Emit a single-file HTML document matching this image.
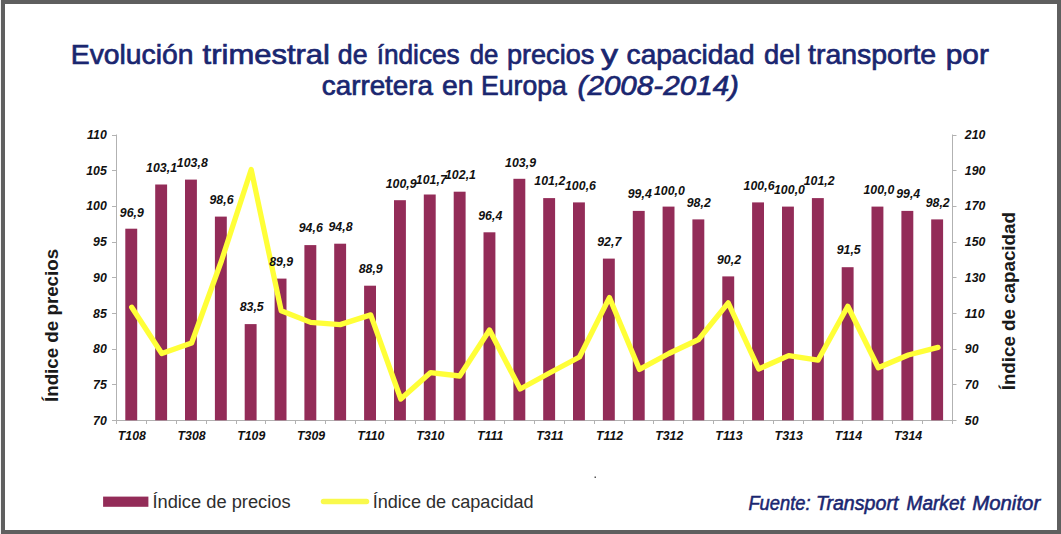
<!DOCTYPE html>
<html><head><meta charset="utf-8"><title>Chart</title>
<style>
html,body{margin:0;padding:0;background:#fff;}
body{width:1061px;height:534px;overflow:hidden;font-family:"Liberation Sans",sans-serif;}
svg{display:block;font-family:"Liberation Sans",sans-serif;}
.t{font-size:28px;fill:#1a2670;stroke:#1a2670;stroke-width:0.7px;}
.n{font-size:12.3px;font-weight:bold;font-style:italic;fill:#111;letter-spacing:0.05px;}
.ax{stroke:#b2b2b2;stroke-width:1;fill:none;}
.b{fill:#932c58;}
</style></head><body>
<svg width="1061" height="534" viewBox="0 0 1061 534">
<rect x="0" y="0" width="1061" height="534" fill="#5f5f5f"/>
<rect x="0" y="0" width="1" height="534" fill="#f0f0f0"/>
<rect x="5" y="4" width="1052" height="526" fill="#ffffff"/>
<text class="t" x="70.78" y="63.6" textLength="122.81" lengthAdjust="spacingAndGlyphs">Evolución</text>
<text class="t" x="202.6" y="63.6" textLength="127.35" lengthAdjust="spacingAndGlyphs">trimestral</text>
<text class="t" x="337.85" y="63.6" textLength="29.7" lengthAdjust="spacingAndGlyphs">de</text>
<text class="t" x="376.66" y="63.6" textLength="82.97" lengthAdjust="spacingAndGlyphs">índices</text>
<text class="t" x="469.68" y="63.6" textLength="28.65" lengthAdjust="spacingAndGlyphs">de</text>
<text class="t" x="507.03" y="63.6" textLength="87.23" lengthAdjust="spacingAndGlyphs">precios</text>
<text class="t" x="601.0" y="63.6" textLength="17.0" lengthAdjust="spacingAndGlyphs">y</text>
<text class="t" x="626.6" y="63.6" textLength="127.98" lengthAdjust="spacingAndGlyphs">capacidad</text>
<text class="t" x="764.12" y="63.6" textLength="36.47" lengthAdjust="spacingAndGlyphs">del</text>
<text class="t" x="808.0" y="63.6" textLength="128.18" lengthAdjust="spacingAndGlyphs">transporte</text>
<text class="t" x="945.73" y="63.6" textLength="43.11" lengthAdjust="spacingAndGlyphs">por</text>
<text class="t" x="321.81" y="95.4" textLength="111.17" lengthAdjust="spacingAndGlyphs">carretera</text>
<text class="t" x="441.99" y="95.4" textLength="31.5" lengthAdjust="spacingAndGlyphs">en</text>
<text class="t" x="481.1" y="95.4" textLength="85.69" lengthAdjust="spacingAndGlyphs">Europa</text>
<text class="t" x="577.54" y="95.4" font-style="italic" textLength="161.46" lengthAdjust="spacingAndGlyphs">(2008-2014)</text>
<g class="ax">
<path d="M116.5 134.5 V424"/>
<path d="M112 420.5 H953"/>
<path d="M952.5 134.5 V421"/>
<path d="M112 135.5 H117 M952 135.5 H956.5"/>
<path d="M112 170.5 H117 M952 170.5 H956.5"/>
<path d="M112 206.5 H117 M952 206.5 H956.5"/>
<path d="M112 242.5 H117 M952 242.5 H956.5"/>
<path d="M112 277.5 H117 M952 277.5 H956.5"/>
<path d="M112 313.5 H117 M952 313.5 H956.5"/>
<path d="M112 349.5 H117 M952 349.5 H956.5"/>
<path d="M112 384.5 H117 M952 384.5 H956.5"/>
<path d="M112 420.5 H117 M952 420.5 H956.5"/>
<path d="M146.5 420 V424"/>
<path d="M176.5 420 V424"/>
<path d="M206.5 420 V424"/>
<path d="M236.5 420 V424"/>
<path d="M265.5 420 V424"/>
<path d="M295.5 420 V424"/>
<path d="M325.5 420 V424"/>
<path d="M355.5 420 V424"/>
<path d="M385.5 420 V424"/>
<path d="M415.5 420 V424"/>
<path d="M444.5 420 V424"/>
<path d="M474.5 420 V424"/>
<path d="M504.5 420 V424"/>
<path d="M534.5 420 V424"/>
<path d="M564.5 420 V424"/>
<path d="M594.5 420 V424"/>
<path d="M624.5 420 V424"/>
<path d="M653.5 420 V424"/>
<path d="M683.5 420 V424"/>
<path d="M713.5 420 V424"/>
<path d="M743.5 420 V424"/>
<path d="M773.5 420 V424"/>
<path d="M803.5 420 V424"/>
<path d="M833.5 420 V424"/>
<path d="M862.5 420 V424"/>
<path d="M892.5 420 V424"/>
<path d="M922.5 420 V424"/>
<path d="M952.5 420 V424"/>
</g>
<g class="b">
<rect x="125.3" y="228.7" width="11.9" height="191.6"/>
<rect x="155.2" y="184.5" width="11.9" height="235.8"/>
<rect x="185.0" y="179.6" width="11.9" height="240.7"/>
<rect x="214.9" y="216.6" width="11.9" height="203.7"/>
<rect x="244.7" y="324.1" width="11.9" height="96.2"/>
<rect x="274.6" y="278.6" width="11.9" height="141.7"/>
<rect x="304.4" y="245.1" width="11.9" height="175.2"/>
<rect x="334.2" y="243.7" width="11.9" height="176.6"/>
<rect x="364.1" y="285.7" width="11.9" height="134.6"/>
<rect x="394.0" y="200.2" width="11.9" height="220.1"/>
<rect x="423.8" y="194.5" width="11.9" height="225.8"/>
<rect x="453.7" y="191.7" width="11.9" height="228.6"/>
<rect x="483.5" y="232.3" width="11.9" height="188.0"/>
<rect x="513.4" y="178.8" width="11.9" height="241.5"/>
<rect x="543.2" y="198.1" width="11.9" height="222.2"/>
<rect x="573.0" y="202.4" width="11.9" height="217.9"/>
<rect x="602.9" y="258.6" width="11.9" height="161.7"/>
<rect x="632.8" y="210.9" width="11.9" height="209.4"/>
<rect x="662.6" y="206.6" width="11.9" height="213.7"/>
<rect x="692.4" y="219.4" width="11.9" height="200.9"/>
<rect x="722.3" y="276.4" width="11.9" height="143.9"/>
<rect x="752.1" y="202.4" width="11.9" height="217.9"/>
<rect x="782.0" y="206.6" width="11.9" height="213.7"/>
<rect x="811.9" y="198.1" width="11.9" height="222.2"/>
<rect x="841.7" y="267.2" width="11.9" height="153.1"/>
<rect x="871.5" y="206.6" width="11.9" height="213.7"/>
<rect x="901.4" y="210.9" width="11.9" height="209.4"/>
<rect x="931.2" y="219.4" width="11.9" height="200.9"/>
</g>
<polyline points="131.7,307.3 161.8,353.5 191.6,343 221.4,261 251.2,169.5 281.2,310.8 310.7,322.4 340.2,324.6 370.7,314.9 400.8,399 430.6,372.6 459.7,376 489.5,330 520.2,389 549.5,373 579.5,357 609.4,297.6 639.5,369.4 668.9,353.5 698.6,339.5 728.2,302.9 758.7,369 788.7,355.6 818,360.2 847.8,306.2 878.3,367.8 908.3,355 938,347.4" fill="none" stroke="#ffff38" stroke-width="5.3" stroke-linejoin="round" stroke-linecap="round"/>
<g class="n">
<text x="106.8" y="139.1" text-anchor="end">110</text>
<text x="964.8" y="139.1">210</text>
<text x="106.8" y="174.8" text-anchor="end">105</text>
<text x="964.8" y="174.8">190</text>
<text x="106.8" y="210.4" text-anchor="end">100</text>
<text x="964.8" y="210.4">170</text>
<text x="106.8" y="246.1" text-anchor="end">95</text>
<text x="964.8" y="246.1">150</text>
<text x="106.8" y="281.8" text-anchor="end">90</text>
<text x="964.8" y="281.8">130</text>
<text x="106.8" y="317.5" text-anchor="end">85</text>
<text x="964.8" y="317.5">110</text>
<text x="106.8" y="353.1" text-anchor="end">80</text>
<text x="964.8" y="353.1">90</text>
<text x="106.8" y="388.8" text-anchor="end">75</text>
<text x="964.8" y="388.8">70</text>
<text x="106.8" y="424.5" text-anchor="end">70</text>
<text x="964.8" y="424.5">50</text>
<text x="131.9" y="439.8" text-anchor="middle">T108</text>
<text x="191.6" y="439.8" text-anchor="middle">T308</text>
<text x="251.3" y="439.8" text-anchor="middle">T109</text>
<text x="311.1" y="439.8" text-anchor="middle">T309</text>
<text x="370.8" y="439.8" text-anchor="middle">T110</text>
<text x="430.4" y="439.8" text-anchor="middle">T310</text>
<text x="490.2" y="439.8" text-anchor="middle">T111</text>
<text x="549.9" y="439.8" text-anchor="middle">T311</text>
<text x="609.6" y="439.8" text-anchor="middle">T112</text>
<text x="669.3" y="439.8" text-anchor="middle">T312</text>
<text x="729.0" y="439.8" text-anchor="middle">T113</text>
<text x="788.7" y="439.8" text-anchor="middle">T313</text>
<text x="848.4" y="439.8" text-anchor="middle">T114</text>
<text x="908.1" y="439.8" text-anchor="middle">T314</text>
<text x="131.9" y="216.9" text-anchor="middle">96,9</text>
<text x="161.6" y="171.7" text-anchor="middle">103,1</text>
<text x="192.3" y="167.3" text-anchor="middle">103,8</text>
<text x="221.5" y="204.3" text-anchor="middle">98,6</text>
<text x="251.7" y="311.3" text-anchor="middle">83,5</text>
<text x="281.2" y="266.4" text-anchor="middle">89,9</text>
<text x="310.8" y="232.2" text-anchor="middle">94,6</text>
<text x="340.5" y="231.3" text-anchor="middle">94,8</text>
<text x="370.7" y="273.0" text-anchor="middle">88,9</text>
<text x="401.2" y="187.7" text-anchor="middle">100,9</text>
<text x="431.3" y="183.6" text-anchor="middle">101,7</text>
<text x="460.5" y="179.2" text-anchor="middle">102,1</text>
<text x="490.3" y="219.7" text-anchor="middle">96,4</text>
<text x="520.6" y="166.6" text-anchor="middle">103,9</text>
<text x="549.8" y="184.9" text-anchor="middle">101,2</text>
<text x="580.5" y="189.6" text-anchor="middle">100,6</text>
<text x="609.3" y="245.8" text-anchor="middle">92,7</text>
<text x="639.8" y="197.7" text-anchor="middle">99,4</text>
<text x="669.4" y="194.5" text-anchor="middle">100,0</text>
<text x="698.8" y="207.1" text-anchor="middle">98,2</text>
<text x="729.0" y="263.6" text-anchor="middle">90,2</text>
<text x="759.1" y="189.6" text-anchor="middle">100,6</text>
<text x="789.5" y="194.3" text-anchor="middle">100,0</text>
<text x="819.2" y="184.9" text-anchor="middle">101,2</text>
<text x="848.7" y="254.4" text-anchor="middle">91,5</text>
<text x="878.9" y="194.4" text-anchor="middle">100,0</text>
<text x="908.2" y="197.7" text-anchor="middle">99,4</text>
<text x="937.7" y="207.2" text-anchor="middle">98,2</text>
</g>
<text transform="translate(58.4,402) rotate(-90)" font-size="19.2" font-weight="bold" fill="#1a1a1a" textLength="153.1" lengthAdjust="spacingAndGlyphs">Índice de precios</text>
<text transform="translate(1014.6,390.3) rotate(-90)" font-size="19.2" font-weight="bold" fill="#1a1a1a" textLength="178.2" lengthAdjust="spacingAndGlyphs">Índice de capacidad</text>
<rect x="103.1" y="496.6" width="45.3" height="10.2" fill="#932c58"/>
<text x="152.4" y="507.7" font-size="18.3" fill="#2e2e2e">Índice de precios</text>
<path d="M323.5 501.6 H366.5" stroke="#f9f94c" stroke-width="5.5" stroke-linecap="round"/>
<text x="372.7" y="507.7" font-size="18.1" fill="#2e2e2e">Índice de capacidad</text>
<text x="748.4" y="509.6" font-size="20" font-style="italic" fill="#1a2670" stroke="#1a2670" stroke-width="0.55" textLength="62.11" lengthAdjust="spacingAndGlyphs">Fuente:</text>
<text x="815.92" y="509.6" font-size="20" font-style="italic" fill="#1a2670" stroke="#1a2670" stroke-width="0.55" textLength="82.47" lengthAdjust="spacingAndGlyphs">Transport</text>
<text x="906.5" y="509.6" font-size="20" font-style="italic" fill="#1a2670" stroke="#1a2670" stroke-width="0.55" textLength="58.32" lengthAdjust="spacingAndGlyphs">Market</text>
<text x="972.2" y="509.6" font-size="20" font-style="italic" fill="#1a2670" stroke="#1a2670" stroke-width="0.55" textLength="68.03" lengthAdjust="spacingAndGlyphs">Monitor</text>
<rect x="594.5" y="476.5" width="1.5" height="1.5" fill="#555"/>
</svg>
</body></html>
